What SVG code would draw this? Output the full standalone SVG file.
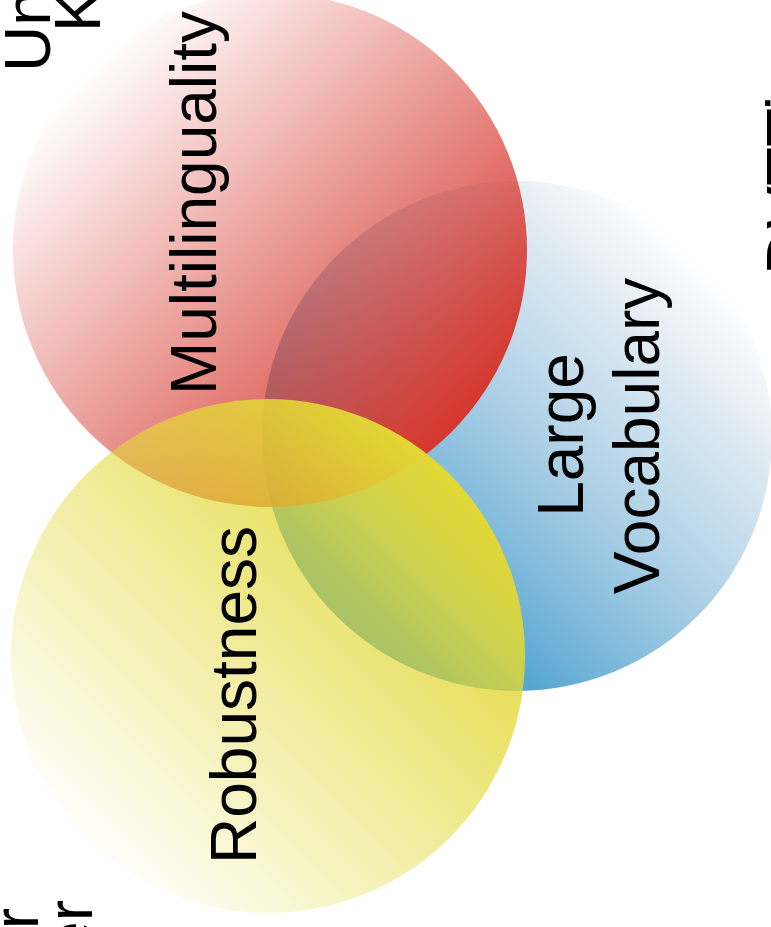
<svg xmlns="http://www.w3.org/2000/svg" width="771" height="927" viewBox="0 0 771 927">
  <defs>
    <!-- each disc fades from transparent to its full colour along a diagonal -->
    <linearGradient id="gradRed" x1="0.15" y1="0.15" x2="0.85" y2="0.85">
      <stop offset="0" stop-color="#d6382e" stop-opacity="0"/>
      <stop offset="1" stop-color="#d6382e" stop-opacity="1"/>
    </linearGradient>
    <linearGradient id="gradBlue" x1="0.85" y1="0.15" x2="0.2" y2="0.8">
      <stop offset="0" stop-color="#9aaec6" stop-opacity="0"/>
      <stop offset="0.3" stop-color="#86b6d6" stop-opacity="0.4"/>
      <stop offset="1" stop-color="#3a9acc" stop-opacity="1"/>
    </linearGradient>
    <linearGradient id="gradYellow" x1="0.15" y1="0.85" x2="0.85" y2="0.15">
      <stop offset="0" stop-color="#e2d835" stop-opacity="0.03"/>
      <stop offset="1" stop-color="#e2d835" stop-opacity="1"/>
    </linearGradient>
  </defs>
  <style>
    .label { font-family: "Liberation Sans", Arial, Helvetica, sans-serif; font-size: 64px; fill: #000; }
    .mid { text-anchor: middle; }
    .end { text-anchor: end; }
  </style>

  <rect width="771" height="927" fill="#ffffff"/>

  <!-- Venn discs, back to front -->
  <g id="large-vocabulary">
    <circle cx="517" cy="436" r="255" fill="url(#gradBlue)"/>
  </g>
  <g id="multilinguality">
    <circle cx="270" cy="250" r="257" fill="url(#gradRed)"/>
  </g>
  <g id="robustness">
    <circle cx="268" cy="656" r="257" fill="url(#gradYellow)"/>
  </g>

  <!-- disc labels, set vertically -->
  <g id="labels">
    <text class="label mid" transform="translate(216,203) rotate(-90)">Multilinguality</text>
    <text class="label mid" transform="translate(583,435) rotate(-90)">Large</text>
    <text class="label mid" transform="translate(659,436) rotate(-90)">Vocabulary</text>
    <text class="label mid" transform="translate(256,695) rotate(-90)">Robustness</text>
  </g>

  <!-- outer labels running off the edges -->
  <g id="outer-labels">
    <text class="label" transform="translate(50,72) rotate(-90)">Un</text>
    <text class="label" transform="translate(100,32) rotate(-90)">K</text>
    <text class="label end" transform="translate(38,908) rotate(-90)">r</text>
    <text class="label end" transform="translate(92,900) rotate(-90)">er</text>
    <text class="label" transform="translate(812,275) rotate(-90)">DVTTi</text>
  </g>
</svg>
